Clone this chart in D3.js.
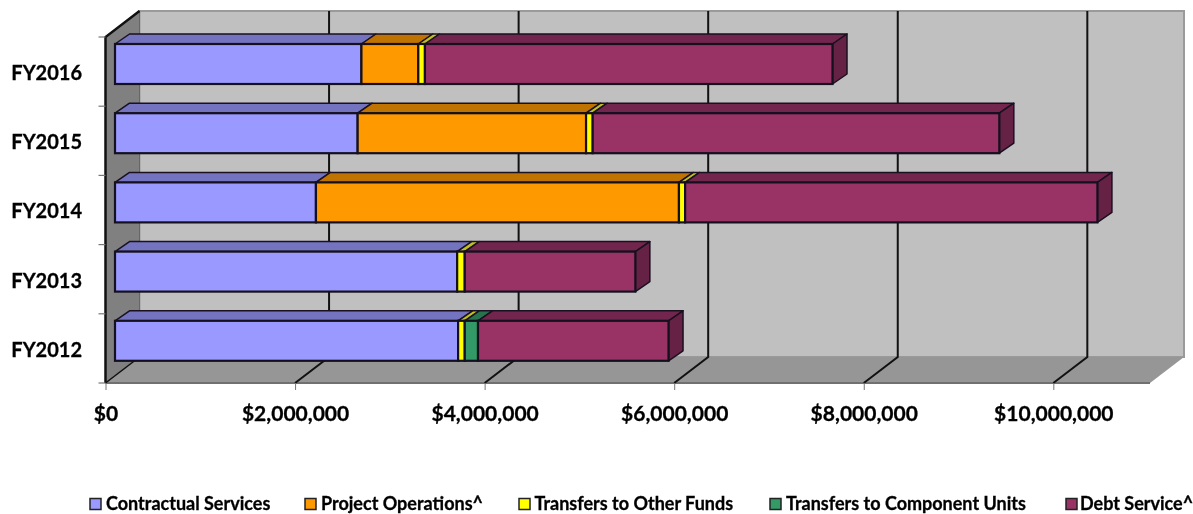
<!DOCTYPE html>
<html>
<head>
<meta charset="utf-8">
<script src="https://cdnjs.cloudflare.com/ajax/libs/d3/7.8.5/d3.min.js"></script>
<style>
  html, body { margin: 0; padding: 0; background: #fff; }
  svg { display: block; font-family: Lato, "Open Sans", sans-serif; font-weight: 700; filter: blur(0.4px); }
  text { stroke: #000; stroke-width: 0.3px; }
</style>
</head>
<body>
<div id="chart"></div>
<script>
// Values, top row first
const categories = ['FY2016', 'FY2015', 'FY2014', 'FY2013', 'FY2012'];
const contractual = [2600000, 2560000, 2120000, 3610000, 3620000];
const projectOps = [600000, 2410000, 3830000, 0, 0];
const transfersFunds = [70000, 70000, 65000, 80000, 70000];
const transfersUnits = [0, 0, 0, 0, 140000];
const debtService = [4300000, 4290000, 4350000, 1800000, 2010000];
const xTicks = [0, 2000000, 4000000, 6000000, 8000000, 10000000];

const seriesNames = ['Contractual Services', 'Project Operations^', 'Transfers to Other Funds', 'Transfers to Component Units', 'Debt Service^'];
const seriesValues = [contractual, projectOps, transfersFunds, transfersUnits, debtService];
const fills = ['#9999ff', '#ff9900', '#ffff00', '#339966', '#993366'];
const topFills = ['#7373bf', '#bf7300', '#bfbf22', '#26734d', '#73264d'];
const sideFill = '#662244';
const legendX = [90, 305, 519, 770, 1066];
const legendTextX = [106, 321, 534.5, 786, 1080];

const W = 1193, H = 514;
const floorY = 383, topY = 37;
const depthX = 34, depthY = -26;   // wall depth
const barDX = 14.5, barDY = -10;   // bar depth
const barInset = 9.5, barHeight = 40, barPad = 7;

const x = d3.scaleLinear().domain([0, 11020000]).range([105.5, 1150]);
const y = d3.scaleBand().domain(categories).range([topY, floorY]);

const svg = d3.select('#chart').append('svg')
  .attr('width', W).attr('height', H).attr('viewBox', `0 0 ${W} ${H}`);

const poly = pts => pts.map(p => p.join(',')).join(' ');
const [x0, x1] = x.range();

// Back wall
svg.append('polygon')
  .attr('points', poly([[x0 + depthX, topY + depthY], [x1 + depthX, topY + depthY], [x1 + depthX, floorY + depthY], [x0 + depthX, floorY + depthY]]))
  .attr('fill', '#c0c0c0').attr('stroke', '#9a9a9a').attr('stroke-width', 2);

// Floor
svg.append('polygon')
  .attr('points', poly([[x0, floorY], [x1, floorY], [x1 + depthX, floorY + depthY], [x0 + depthX, floorY + depthY]]))
  .attr('fill', '#969696');
svg.append('line')
  .attr('x1', x0).attr('x2', x1).attr('y1', floorY).attr('y2', floorY)
  .attr('stroke', '#707070').attr('stroke-width', 2);

// Gridlines, up the wall and across the floor
svg.append('g').selectAll('polyline')
  .data(xTicks.slice(1))
  .enter()
  .append('polyline')
  .attr('points', d => poly([[x(d), floorY], [x(d) + depthX, floorY + depthY], [x(d) + depthX, topY + depthY]]))
  .attr('fill', 'none').attr('stroke', '#111').attr('stroke-width', 2);

// Left wall
svg.append('polygon')
  .attr('points', poly([[x0, topY], [x0 + depthX, topY + depthY], [x0 + depthX, floorY + depthY], [x0, floorY]]))
  .attr('fill', '#808080').attr('stroke', '#666').attr('stroke-width', 1);
svg.append('polyline')
  .attr('points', poly([[x0, floorY], [x0, topY], [x0 + depthX, topY + depthY]]))
  .attr('fill', 'none').attr('stroke', '#111').attr('stroke-width', 2.5);
svg.append('line')
  .attr('x1', x0).attr('y1', floorY).attr('x2', x0 + depthX).attr('y2', floorY + depthY)
  .attr('stroke', '#111').attr('stroke-width', 1.5);

// Left tick marks at band edges
svg.append('g').selectAll('line')
  .data(d3.range(categories.length + 1))
  .enter()
  .append('line')
  .attr('x1', x0 - 7).attr('x2', x0)
  .attr('y1', i => topY + i * y.step()).attr('y2', i => topY + i * y.step())
  .attr('stroke', '#777').attr('stroke-width', 1.2);

// Stacked bars
const rows = categories.map((c, i) => {
  const row = { category: c };
  seriesNames.forEach((s, j) => { row[s] = seriesValues[j][i]; });
  return row;
});
const stacked = d3.stack().keys(seriesNames)(rows);
const px = v => x(v) + barInset;

categories.forEach((c, i) => {
  const g = svg.append('g');
  const by = y(c) + barPad;
  const segs = stacked
    .map((layer, j) => ({ j, a: layer[i][0], b: layer[i][1] }))
    .filter(d => d.b > d.a);
  const last = segs[segs.length - 1];

  g.selectAll('.top').data(segs).enter().append('polygon')
    .attr('class', 'top')
    .attr('points', d => poly([[px(d.a), by], [px(d.b), by], [px(d.b) + barDX, by + barDY], [px(d.a) + barDX, by + barDY]]))
    .attr('fill', d => topFills[d.j]).attr('stroke', '#1a1020').attr('stroke-width', 1.5).attr('stroke-linejoin', 'round');

  g.append('polygon')
    .attr('points', poly([[px(last.b), by], [px(last.b) + barDX, by + barDY], [px(last.b) + barDX, by + barDY + barHeight], [px(last.b), by + barHeight]]))
    .attr('fill', sideFill).attr('stroke', '#1a1020').attr('stroke-width', 1.5).attr('stroke-linejoin', 'round');

  g.selectAll('.front').data(segs).enter().append('rect')
    .attr('class', 'front')
    .attr('x', d => px(d.a)).attr('y', by)
    .attr('width', d => px(d.b) - px(d.a)).attr('height', barHeight)
    .attr('fill', d => fills[d.j]).attr('stroke', '#14101e').attr('stroke-width', 2.2);
});

// Axes
const fmt = d3.format('$,');
svg.append('g')
  .attr('transform', `translate(0,${floorY})`)
  .call(d3.axisBottom(x).tickValues(xTicks).tickFormat(d => fmt(d)).tickSize(7).tickPadding(16))
  .call(sel => sel.select('.domain').remove())
  .call(sel => sel.selectAll('line').attr('stroke', '#777'))
  .call(sel => sel.selectAll('text').attr('fill', '#000').attr('font-size', 21).attr('font-family', 'Lato').attr('font-weight', 700));

svg.append('g')
  .attr('transform', 'translate(82,2)')
  .call(d3.axisLeft(y).tickSize(0).tickPadding(0))
  .call(sel => sel.select('.domain').remove())
  .call(sel => sel.selectAll('text').attr('fill', '#000').attr('font-size', 20).attr('font-family', 'Lato').attr('font-weight', 700));

// Legend
const legend = svg.append('g').selectAll('g')
  .data(seriesNames)
  .enter()
  .append('g');
legend.append('rect')
  .attr('x', (d, i) => legendX[i]).attr('y', 498.5)
  .attr('width', 11).attr('height', 11)
  .attr('fill', (d, i) => fills[i]).attr('stroke', '#222').attr('stroke-width', 1.5);
legend.append('text')
  .attr('x', (d, i) => legendTextX[i]).attr('y', 510)
  .attr('font-size', 18).attr('fill', '#000')
  .text(d => d);
</script>
</body>
</html>
